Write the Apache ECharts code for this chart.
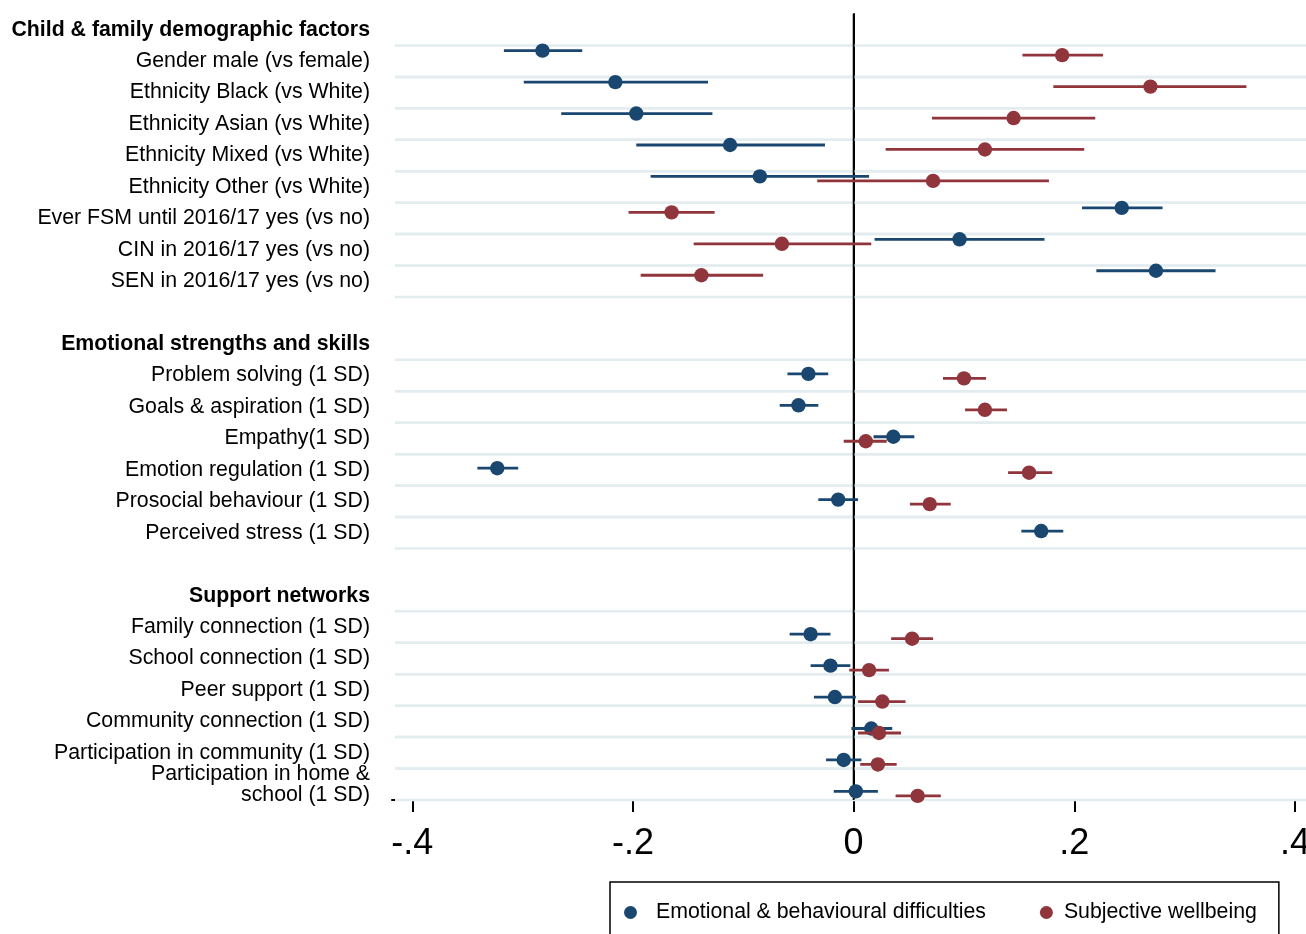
<!DOCTYPE html>
<html>
<head>
<meta charset="utf-8">
<script src="https://cdn.jsdelivr.net/npm/echarts@6/dist/echarts.min.js"></script>
<style>html,body{margin:0;padding:0;background:#fff;overflow:hidden}#c{width:1306px;height:934px}</style>
</head>
<body>
<div id="c"></div>
<script>
// ---- data ----
const headers = ["Child & family demographic factors", "Emotional strengths and skills", "Support networks"];
const categories = [
  "Child & family demographic factors",
  "Gender male (vs female)",
  "Ethnicity Black (vs White)",
  "Ethnicity Asian (vs White)",
  "Ethnicity Mixed (vs White)",
  "Ethnicity Other (vs White)",
  "Ever FSM until 2016/17 yes (vs no)",
  "CIN in 2016/17 yes (vs no)",
  "SEN in 2016/17 yes (vs no)",
  "",
  "Emotional strengths and skills",
  "Problem solving (1 SD)",
  "Goals & aspiration (1 SD)",
  "Empathy(1 SD)",
  "Emotion regulation (1 SD)",
  "Prosocial behaviour (1 SD)",
  "Perceived stress (1 SD)",
  " ",
  "Support networks",
  "Family connection (1 SD)",
  "School connection (1 SD)",
  "Peer support (1 SD)",
  "Community connection (1 SD)",
  "Participation in community (1 SD)",
  "Participation in home &\nschool (1 SD)"
];
const seriesNames = ["Emotional & behavioural difficulties", "Subjective wellbeing"];
const ebdEst = [null,-0.282,-0.216,-0.197,-0.112,-0.085,0.243,0.096,0.274,null,null,-0.041,-0.050,0.036,-0.323,-0.014,0.170,null,null,-0.039,-0.021,-0.017,0.016,-0.009,0.002];
const ebdLo  = [null,-0.317,-0.299,-0.265,-0.197,-0.184,0.207,0.019,0.220,null,null,-0.060,-0.067,0.018,-0.341,-0.032,0.152,null,null,-0.058,-0.039,-0.036,-0.002,-0.025,-0.018];
const ebdHi  = [null,-0.246,-0.132,-0.128,-0.026,0.014,0.280,0.173,0.328,null,null,-0.023,-0.032,0.055,-0.304,0.004,0.190,null,null,-0.021,-0.003,0.002,0.035,0.007,0.022];
const swbEst = [null,0.189,0.269,0.145,0.119,0.072,-0.165,-0.065,-0.138,null,null,0.100,0.119,0.011,0.159,0.069,null,null,null,0.053,0.014,0.026,0.023,0.022,0.058];
const swbLo  = [null,0.153,0.181,0.071,0.029,-0.033,-0.204,-0.145,-0.193,null,null,0.081,0.101,-0.009,0.140,0.051,null,null,null,0.034,-0.004,0.004,0.004,0.006,0.038];
const swbHi  = [null,0.226,0.356,0.219,0.209,0.177,-0.126,0.016,-0.082,null,null,0.120,0.139,0.030,0.180,0.088,null,null,null,0.072,0.032,0.047,0.043,0.039,0.079];
const tickValues = [-0.4, -0.2, 0, 0.2, 0.4];
const tickLabels = ["-.4", "-.2", "0", ".2", ".4"];

// ---- build ----
const BLUE = '#1a476f', RED = '#90353b', GRID = '#e3ecef';
const groupOf = [];
let g = -1;
categories.forEach(c => { if (headers.includes(c)) g++; groupOf.push(g); });

function build(est, lo, hi) {
  const out = [];
  est.forEach((v, i) => { if (v !== null) out.push([v, lo[i], hi[i], i, groupOf[i]]); });
  return out;
}
const itemRows = [];
ebdEst.forEach((v, i) => { if (v !== null || swbEst[i] !== null) itemRows.push([0, i]); });

const BASE = -0.334, STEP = 0.28;
function ciRender(color, shift) {
  return function (params, api) {
    const row = api.value(3), grp = api.value(4);
    const band = api.size([0, 1])[1];
    const c = api.coord([api.value(0), row]);
    const yy = c[1] + band * (BASE + grp * STEP + shift);
    const x1 = api.coord([api.value(1), row])[0];
    const x2 = api.coord([api.value(2), row])[0];
    return {
      type: 'group', children: [
        { type: 'line', shape: { x1: x1, y1: yy, x2: x2, y2: yy }, style: { stroke: color, lineWidth: 2.8 } },
        { type: 'circle', shape: { cx: c[0], cy: yy, r: 7.2 }, style: { fill: color } }
      ]
    };
  };
}

const FONT = "'Liberation Sans', Arial, Helvetica, sans-serif";
const FS = 21.3;
const chart = echarts.init(document.getElementById('c'), null, { renderer: 'canvas' });
chart.setOption({
  animation: false,
  backgroundColor: '#fff',
  textStyle: { fontFamily: FONT },
  grid: { left: 392, top: 14, right: 0, bottom: 134, containLabel: false, outerBoundsMode: 'none' },
  xAxis: {
    type: 'value', min: -0.4184, max: 0.41,
    axisLine: { show: true, lineStyle: { color: '#000', width: 2 } },
    axisTick: { show: true, length: 12, lineStyle: { color: '#000', width: 2 }, customValues: tickValues },
    axisLabel: {
      customValues: tickValues, fontSize: 36, color: '#000', margin: 26, fontFamily: FONT,
      formatter: v => { const k = tickValues.findIndex(t => Math.abs(t - v) < 1e-9); return k >= 0 ? tickLabels[k] : ''; }
    },
    splitLine: { show: false }
  },
  yAxis: {
    type: 'category', inverse: true, data: categories, boundaryGap: true,
    axisLine: { show: true, lineStyle: { color: '#000', width: 2 } },
    axisTick: { show: false },
    splitLine: { show: false },
    axisLabel: {
      interval: 0, fontSize: FS, color: '#000', margin: 22, lineHeight: 21, fontFamily: FONT, align: 'right',
      formatter: v => headers.includes(v) ? '{h|' + v + '}' : v,
      rich: { h: { fontWeight: 'bold', fontSize: FS, color: '#000', fontFamily: FONT } }
    }
  },
  legend: {
    left: 610, top: 882, orient: 'horizontal',
    padding: [20, 22, 30, 14],
    borderColor: '#000', borderWidth: 1.5, backgroundColor: '#fff',
    itemWidth: 13, itemHeight: 13, itemGap: 54,
    data: [{ name: seriesNames[0], icon: 'circle' }, { name: seriesNames[1], icon: 'circle' }],
    formatter: n => n === seriesNames[0] ? '{a|' + n + '}' : '{b|' + n + '}',
    textStyle: {
      fontSize: FS, color: '#000', fontFamily: FONT,
      rich: { a: { fontSize: FS, padding: [0, 0, 0, 14], fontFamily: FONT }, b: { fontSize: FS, padding: [0, 0, 0, 6], fontFamily: FONT } }
    },
    selectedMode: false
  },
  series: [
    {
      type: 'custom', name: 'grid', silent: true, z: 1, data: itemRows,
      encode: { x: 0, y: 1 },
      renderItem: function (params, api) {
        const cs = params.coordSys;
        const band = api.size([0, 1])[1];
        const cy = api.coord([0, api.value(1)])[1];
        const x1 = cs.x + 3, x2 = cs.x + cs.width;
        return {
          type: 'group', children: [
            { type: 'line', shape: { x1: x1, y1: cy - band / 2, x2: x2, y2: cy - band / 2 }, style: { stroke: GRID, lineWidth: 2.5 } },
            { type: 'line', shape: { x1: x1, y1: cy + band / 2, x2: x2, y2: cy + band / 2 }, style: { stroke: GRID, lineWidth: 2.5 } }
          ]
        };
      }
    },
    {
      type: 'custom', name: 'zero', silent: true, z: 2, data: [[0, 0]],
      encode: { x: 0, y: 1 },
      renderItem: function (params, api) {
        const cs = params.coordSys;
        const x = api.coord([api.value(0), 0])[0];
        return { type: 'line', shape: { x1: x, y1: cs.y, x2: x, y2: cs.y + cs.height }, style: { stroke: '#000', lineWidth: 1.8 } };
      }
    },
    {
      type: 'custom', name: seriesNames[0], z: 3, data: build(ebdEst, ebdLo, ebdHi),
      itemStyle: { color: BLUE }, encode: { x: [0, 1, 2], y: 3 },
      renderItem: ciRender(BLUE, 0)
    },
    {
      type: 'custom', name: seriesNames[1], z: 4, data: build(swbEst, swbLo, swbHi),
      itemStyle: { color: RED }, encode: { x: [0, 1, 2], y: 3 },
      renderItem: ciRender(RED, 0.143)
    }
  ]
});
</script>
</body>
</html>
